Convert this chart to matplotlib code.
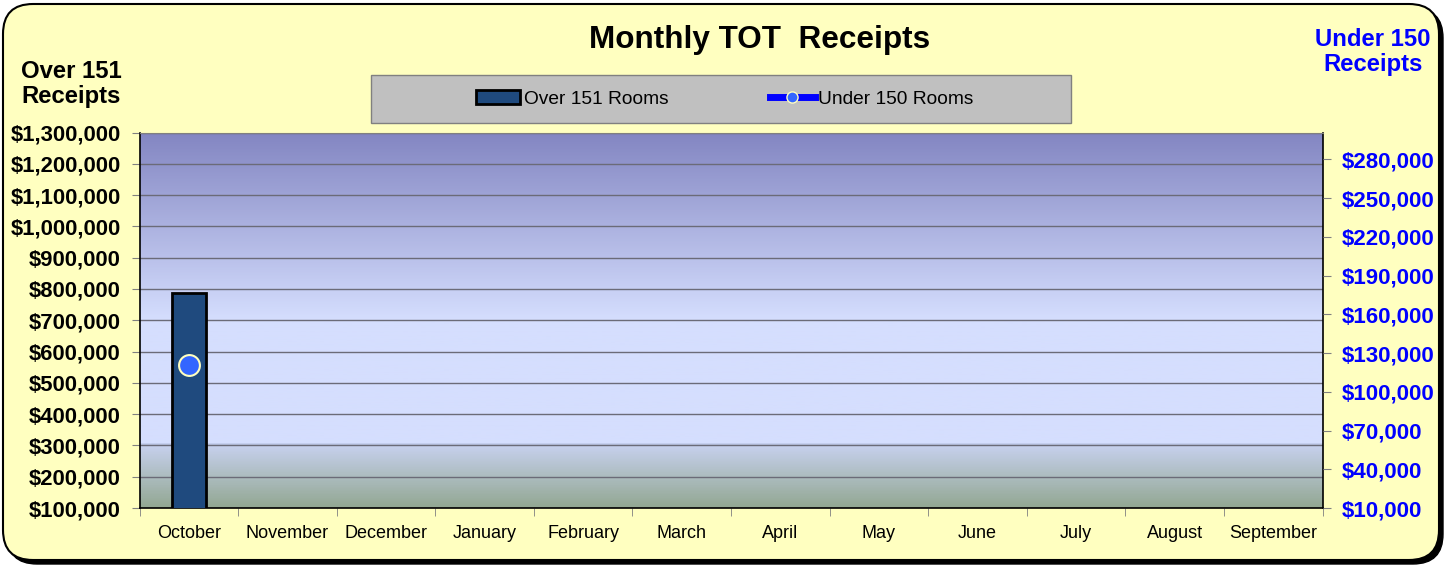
import matplotlib.pyplot as plt
import numpy as np
from matplotlib.colors import LinearSegmentedColormap
from matplotlib.lines import Line2D
from matplotlib.patches import FancyBboxPatch, Rectangle
from matplotlib.ticker import FuncFormatter, MultipleLocator

plt.rcParams["font.family"] = ["Liberation Sans", "DejaVu Sans"]

# Chart data
months = ["October", "November", "December", "January", "February", "March",
          "April", "May", "June", "July", "August", "September"]
over_151 = [786000] + [np.nan] * 11
under_150 = [120700] + [np.nan] * 11
right_ticks = np.arange(10000, 290001, 30000)

BAR_COLOR = "#1F4A7E"
RIGHT_COLOR = "#0000FF"
PANEL = "#FFFFC0"

W, H = 1451, 566
fig = plt.figure(figsize=(W / 100, H / 100), dpi=100)
fig.patch.set_facecolor("white")

# background axes in pixel units for the rounded panel + shadow
bg = fig.add_axes([0, 0, 1, 1], zorder=-10)
bg.set_xlim(0, W)
bg.set_ylim(H, 0)
bg.axis("off")
bg.add_patch(FancyBboxPatch((7, 8), 1436, 556,
                            boxstyle="round,pad=0,rounding_size=30",
                            facecolor="black", edgecolor="black"))
bg.add_patch(FancyBboxPatch((3, 4), 1436, 556,
                            boxstyle="round,pad=0,rounding_size=30",
                            facecolor=PANEL, edgecolor="black", linewidth=1.5))
# legend box
bg.add_patch(Rectangle((371, 75), 700, 48, facecolor="#C0C0C0",
                       edgecolor="#808080", linewidth=1))

ax = fig.add_axes([139.5 / W, 1 - 508 / H, 1183 / W, 375.5 / H])
ax.set_facecolor("none")

# gradient plot-area background
cmap = LinearSegmentedColormap.from_list(
    "plotbg",
    [(0.0, "#93A893"), (0.162, "#C6D0EC"), (0.166, "#B6C0E0"),
     (0.172, "#D5DEFE"), (0.5, "#D5DEFE"), (1.0, "#8386C2")])
grad = np.linspace(1, 0, 400).reshape(-1, 1)
ax.imshow(grad, cmap=cmap, extent=[0, 1, 0, 1], transform=ax.transAxes,
          aspect="auto", zorder=0, vmin=0, vmax=1)

x = np.arange(len(months))
ax.bar(x, over_151, width=0.34, bottom=0, color=BAR_COLOR,
       edgecolor="black", linewidth=2, zorder=3)
ax.set_xlim(-0.5, 11.5)
ax.set_ylim(100000, 1300000)
ax.yaxis.set_major_locator(MultipleLocator(100000))
ax.yaxis.set_major_formatter(FuncFormatter(lambda v, p: f"${v:,.0f}"))
ax.grid(axis="y", color="#6B6B78", linewidth=1)
for gl in ax.get_ygridlines():
    gl.set_zorder(1)

ax.set_xticks(x)
ax.set_xticklabels(months, fontsize=13)
ax.set_xticks(np.arange(-0.5, 12, 1), minor=True)
ax.tick_params(axis="x", which="major", length=0, pad=12)
ax.tick_params(axis="x", which="minor", length=6, color="#808080")
ax.tick_params(axis="y", length=6, color="#808080", labelsize=15.8, pad=7.5)
for lbl in ax.get_yticklabels():
    lbl.set_fontweight("bold")

for side in ["left", "bottom", "right"]:
    ax.spines[side].set_color("black")
    ax.spines[side].set_linewidth(1.2)
ax.spines["top"].set_color("#808080")

ax2 = ax.twinx()
ax2.plot(x, under_150, color=RIGHT_COLOR, linewidth=5, marker="o",
         markersize=15, markerfacecolor="#3366FF", markeredgecolor="#FFFFC0",
         markeredgewidth=1.5, zorder=5)
ax2.set_ylim(10000, 300900)
ax2.set_yticks(right_ticks)
ax2.yaxis.set_major_formatter(FuncFormatter(lambda v, p: f"${v:,.0f}"))
ax2.tick_params(axis="y", length=6, color="#808080", labelsize=16,
                labelcolor=RIGHT_COLOR, pad=8)
for lbl in ax2.get_yticklabels():
    lbl.set_fontweight("bold")
for s in ax2.spines.values():
    s.set_visible(False)

# titles
fig.text(760 / W, 1 - 40 / H, "Monthly TOT  Receipts", ha="center",
         va="center", fontsize=22.7, fontweight="bold")
fig.text(71 / W, 1 - 84 / H, "Over 151\nReceipts", ha="center", va="center",
         fontsize=17.2, fontweight="bold", linespacing=1.15)
fig.text(1373 / W, 1 - 52 / H, "Under 150\nReceipts", ha="center", va="center",
         fontsize=17.2, fontweight="bold", color=RIGHT_COLOR, linespacing=1.15)

# legend
handles = [
    Rectangle((0, 0), 1, 1, facecolor=BAR_COLOR, edgecolor="black", linewidth=2),
    Line2D([], [], color=RIGHT_COLOR, linewidth=5, marker="o", markersize=8,
           markerfacecolor="#3366FF", markeredgecolor="#FFFFC0"),
]
fig.legend(handles, ["Over 151 Rooms", "Under 150 Rooms"], ncol=2,
           loc="center", bbox_to_anchor=(725 / W, 1 - 99 / H), frameon=False,
           fontsize=13.8, handlelength=2.3, handletextpad=0.2, columnspacing=5.3)

fig.savefig("out.png", dpi=100)
